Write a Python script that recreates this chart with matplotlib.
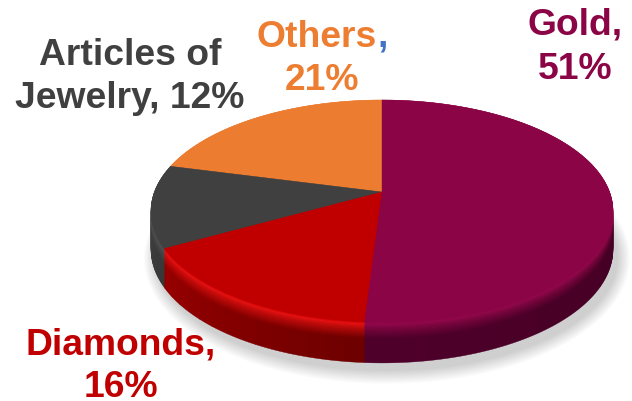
import numpy as np
import matplotlib
matplotlib.use('Agg')
import matplotlib.pyplot as plt
from matplotlib.colors import to_rgb

categories = ['Gold', 'Diamonds', 'Articles of Jewelry', 'Others']
values = [51, 16, 12, 21]
face_colors = ['#8B0445', '#C00000', '#404040', '#EC7C30']
rim_colors = ['#93084B', '#E81212', '#525252', '#F08A40']
side_start = ['#3A001C', '#6E0000', '#383838', '#A05020']
side_stop = ['#4E002A', '#960000', '#444444', '#A05020']

CX, CY = 382, 192    # where the slices meet
A, B, K = 227.6, 107.7, 0.171    # tilt of the disc
DEPTH = 38
PIECES = 14


def project(theta):
    # theta runs clockwise from 12 o'clock
    u = np.sin(theta)
    v = -np.cos(theta)
    s = 1 - K * v
    return CX + A * u / s, CY + B * v / s, v


def sector(start, stop, drop=0.0):
    t = np.linspace(start, stop, 60)
    x, y, v = project(t)
    y = y + drop * (DEPTH + 3 * v)
    return np.r_[CX, x], np.r_[CY + drop * DEPTH, y]


def mix(c1, c2, f):
    return tuple(np.array(to_rgb(c1)) * (1 - f) + np.array(to_rgb(c2)) * f)


def edge_color(i, d, along):
    # d is 0 at the top face and 1 at the bottom of the side
    side = mix(side_start[i], side_stop[i], along)
    if d < 0.06:
        return mix(face_colors[i], rim_colors[i], d / 0.06)
    if d < 0.42:
        f = (d - 0.06) / 0.36
        return mix(rim_colors[i], side, f ** 0.8)
    return side


fig = plt.figure(figsize=(6.32, 4.01), dpi=100)
ax = fig.add_axes([0, 0, 1, 1])
ax.set_xlim(0, 632)
ax.set_ylim(401, 0)
ax.axis('off')

# soft shadow under the disc
t = np.linspace(0, 2 * np.pi, 300)
sx, sy, sv = project(t)
sy = sy + DEPTH + 3 * sv
for grow in np.linspace(12, 0, 12):
    mx, my = sx.mean(), sy.mean()
    ax.fill(mx + 5 + (sx - mx) * (1 + grow / 231), my + 8 + (sy - my) * (1 + grow / 115),
            color='black', alpha=0.014, lw=0, zorder=1)

edges = np.r_[0, np.cumsum(values)] / np.sum(values) * 2 * np.pi

# side of the disc, painted from the bottom up
for d in np.linspace(1, 0, 50):
    for i in [3, 2, 1, 0]:
        cuts = np.linspace(edges[i], edges[i + 1], PIECES + 1)
        for j in range(PIECES):
            x, y = sector(cuts[j], cuts[j + 1], d)
            c = edge_color(i, d, j / (PIECES - 1))
            ax.fill(x, y, color=c, ec=c, lw=0.3, zorder=2)

# top face
for i in [3, 2, 1, 0]:
    x, y = sector(edges[i], edges[i + 1])
    ax.fill(x, y, color=face_colors[i], ec=face_colors[i], lw=0.3, zorder=3)

font = dict(family='Liberation Sans', fontweight='bold', fontsize=26.8)
ax.text(575, 35, 'Gold,', ha='center', color='#8B0445', **font)
ax.text(575, 79, '51%', ha='center', color='#8B0445', **font)
ax.text(377, 47, 'Others', ha='right', color='#ED7D31', **font)
ax.text(377, 47, ',', ha='left', color='#4472C4', **font)
ax.text(322, 90, '21%', ha='center', color='#ED7D31', **font)
ax.text(130, 65, 'Articles of', ha='center', color='#404040', **font)
ax.text(130, 108, 'Jewelry, 12%', ha='center', color='#404040', **font)
ax.text(121, 355, 'Diamonds,', ha='center', color='#C00000', **font)
ax.text(121, 397, '16%', ha='center', color='#C00000', **font)

plt.savefig('out.png', dpi=100)
